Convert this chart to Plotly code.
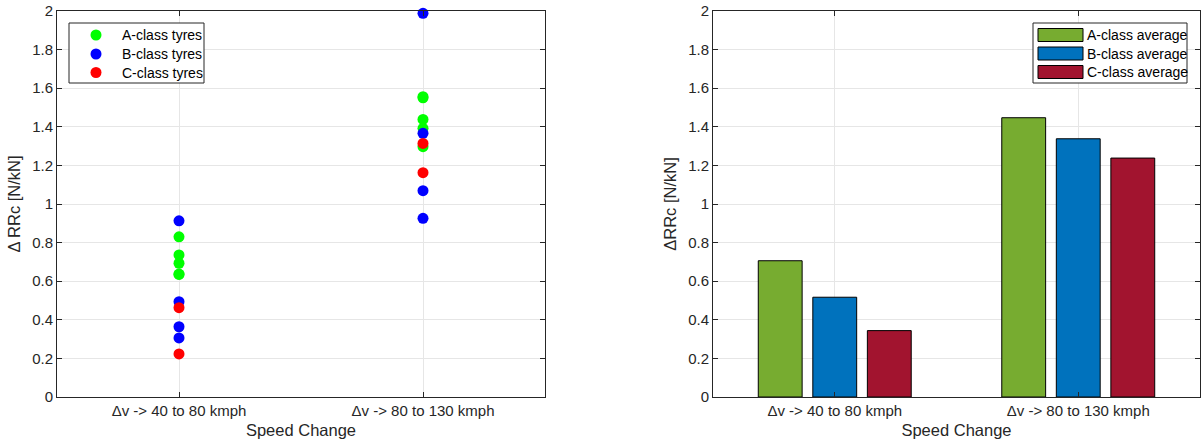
import plotly.graph_objects as go

W, H = 1204, 448

# ---------------- data ----------------
categories = ["\u0394v -> 40 to 80 kmph", "\u0394v -> 80 to 130 kmph"]
cat_pos = [1, 2]

# individual tyre points (left panel)
a_cat1 = [0.830, 0.736, 0.693, 0.637, 0.635]
a_cat2 = [1.556, 1.550, 1.438, 1.392, 1.297]
b_cat1 = [0.913, 0.494, 0.364, 0.306]
b_cat2 = [1.988, 1.366, 1.069, 0.926]
c_cat1 = [0.463, 0.223]
c_cat2 = [1.314, 1.162]

# class averages (right panel)
a_avg = [0.706, 1.447]
b_avg = [0.517, 1.338]
c_avg = [0.344, 1.238]

point_names = ["A-class tyres", "B-class tyres", "C-class tyres"]
bar_names = ["A-class average", "B-class average", "C-class average"]
point_colors = ["#00FF00", "#0000FF", "#FF0000"]
bar_colors = ["#77AC30", "#0072BD", "#A2142F"]

y_ticks = [0, 0.2, 0.4, 0.6, 0.8, 1, 1.2, 1.4, 1.6, 1.8, 2]

FONT = "Liberation Sans, Arial, Helvetica, sans-serif"
AXC = "#262626"
GRID = "#E6E6E6"

fig = go.Figure()

point_sets = [(a_cat1, a_cat2), (b_cat1, b_cat2), (c_cat1, c_cat2)]
for (v1, v2), name, col in zip(point_sets, point_names, point_colors):
    xs = [cat_pos[0]] * len(v1) + [cat_pos[1]] * len(v2)
    ys = list(v1) + list(v2)
    fig.add_trace(go.Scatter(
        x=xs, y=ys, mode="markers", name=name,
        marker=dict(color=col, size=11, line=dict(width=0)),
        xaxis="x", yaxis="y", showlegend=False, cliponaxis=False,
    ))

for vals, name, col in zip([a_avg, b_avg, c_avg], bar_names, bar_colors):
    fig.add_trace(go.Bar(
        x=cat_pos, y=vals, name=name,
        marker=dict(color=col, line=dict(color="#000000", width=1)),
        xaxis="x2", yaxis="y2", showlegend=False,
    ))

def px(x):
    return x / W

def py(y):
    return 1 - y / H

y_dom = [py(397), py(11)]

axis_common = dict(
    showline=True, linecolor=AXC, linewidth=1, mirror="ticks",
    ticks="inside", ticklen=5, tickcolor=AXC,
    showgrid=True, gridcolor=GRID, gridwidth=1,
    zeroline=False, automargin=False,
    tickfont=dict(family=FONT, size=15, color=AXC),
)
title_font = dict(family=FONT, size=16.5, color=AXC)

fig.update_layout(
    width=W, height=H,
    margin=dict(l=0, r=0, t=0, b=0, autoexpand=False),
    paper_bgcolor="white", plot_bgcolor="white",
    font=dict(family=FONT, color=AXC),
    showlegend=False,
    barmode="group", bargap=0.328, bargroupgap=0.196,
    xaxis=dict(domain=[px(57), px(545)], range=[0.5, 2.5],
               tickvals=cat_pos, ticktext=categories, anchor="y",
               title=dict(text="Speed Change", font=title_font, standoff=6),
               **axis_common),
    yaxis=dict(domain=y_dom, range=[0, 2], tickvals=y_ticks, anchor="x",
               title=dict(text="\u0394 RRc [N/kN]", font=title_font, standoff=7),
               **axis_common),
    xaxis2=dict(domain=[px(713), px(1200)], range=[0.5, 2.5],
                tickvals=cat_pos, ticktext=categories, anchor="y2",
                title=dict(text="Speed Change", font=title_font, standoff=6),
                **axis_common),
    yaxis2=dict(domain=y_dom, range=[0, 2], tickvals=y_ticks, anchor="x2",
                title=dict(text="\u0394RRc [N/kN]", font=title_font, standoff=7),
                **axis_common),
)

shapes = []
annotations = []
rows_c = [35, 54, 72.5]

# custom legend for the scatter panel
shapes.append(dict(type="rect", xref="paper", yref="paper",
                   x0=px(69), x1=px(204), y0=py(83), y1=py(23),
                   line=dict(color=AXC, width=1), fillcolor="white", layer="above"))
r = 5.5
for cy, name, col in zip(rows_c, point_names, point_colors):
    shapes.append(dict(type="circle", xref="paper", yref="paper",
                       x0=px(96 - r), x1=px(96 + r), y0=py(cy + r), y1=py(cy - r),
                       line=dict(width=0), fillcolor=col, layer="above"))
    annotations.append(dict(xref="paper", yref="paper", x=px(120), y=py(cy),
                            xanchor="left", yanchor="middle", showarrow=False,
                            text=name, font=dict(family=FONT, size=14, color="#000000")))

# custom legend for the bar panel (wide swatches like the original)
shapes.append(dict(type="rect", xref="paper", yref="paper",
                   x0=px(1033), x1=px(1187), y0=py(83), y1=py(23),
                   line=dict(color=AXC, width=1), fillcolor="white", layer="above"))
rows = [(28.5, 41.5), (47, 60), (65.5, 78.5)]
for (t, b), name, col in zip(rows, bar_names, bar_colors):
    shapes.append(dict(type="rect", xref="paper", yref="paper",
                       x0=px(1038), x1=px(1083), y0=py(b), y1=py(t),
                       line=dict(color="#000000", width=1), fillcolor=col, layer="above"))
    annotations.append(dict(xref="paper", yref="paper", x=px(1085), y=py((t + b) / 2),
                            xanchor="left", yanchor="middle", showarrow=False,
                            text=name, font=dict(family=FONT, size=14, color="#000000")))
fig.update_layout(shapes=shapes, annotations=annotations)

fig.write_html("out.html")
